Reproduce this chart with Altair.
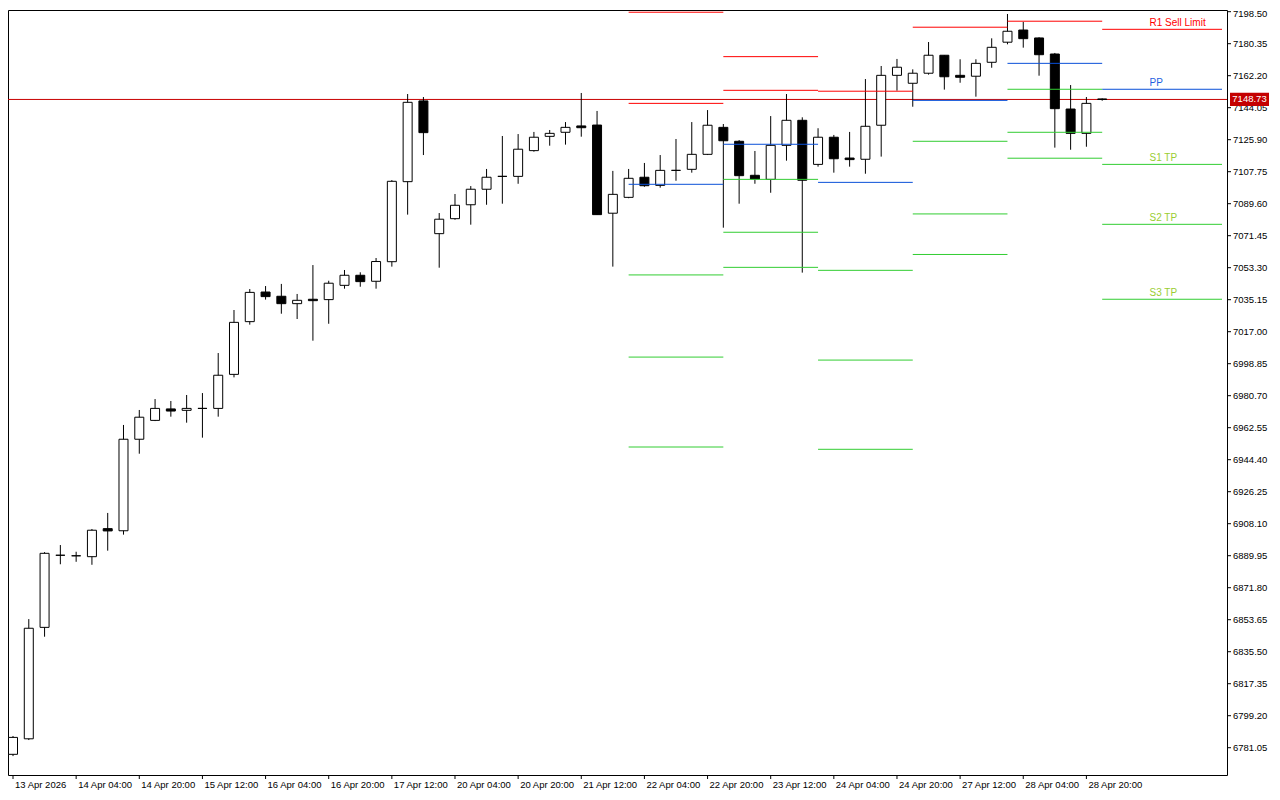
import altair as alt
import pandas as pd

# ---------------- data ----------------
opens = [6777.3, 6786.1, 6849.3, 6890.2, 6889.9, 6889.4, 6905.3, 6904.1, 6956.0, 6966.7,
         6973.2, 6972.4, 6973.5, 6973.5, 6992.8, 7022.7, 7039.5, 7037.1, 7032.9, 7035.4,
         7035.2, 7043.3, 7049.0, 7045.6, 7056.7, 7102.1, 7147.9, 7072.6, 7081.1, 7089.0,
         7097.8, 7105.1, 7105.1, 7119.7, 7127.8, 7130.1, 7133.7, 7134.2, 7084.2, 7093.2,
         7104.6, 7100.0, 7108.5, 7109.1, 7117.6, 7132.9, 7125.0, 7105.7, 7103.4, 7122.7,
         7136.9, 7111.9, 7127.3, 7115.5, 7114.8, 7134.1, 7162.4, 7157.9, 7163.6, 7173.8,
         7162.4, 7161.9, 7169.8, 7181.2, 7188.1, 7183.6, 7174.5, 7143.3, 7129.5, 7149.0]
closes = [6786.9, 6848.8, 6891.3, 6890.2, 6889.9, 6904.4, 6904.0, 6956.0, 6968.5, 6973.5,
          6972.0, 6973.5, 6973.5, 6992.3, 7022.3, 7039.3, 7036.9, 7032.9, 7034.8, 7034.6,
          7044.5, 7049.0, 7045.4, 7056.8, 7102.3, 7147.1, 7129.9, 7080.8, 7088.7, 7097.8,
          7104.6, 7105.1, 7120.5, 7127.3, 7129.5, 7132.9, 7132.7, 7083.4, 7094.9, 7104.0,
          7099.8, 7108.5, 7108.5, 7117.6, 7134.1, 7125.3, 7105.5, 7103.6, 7122.7, 7136.9,
          7102.9, 7127.3, 7115.1, 7114.6, 7133.5, 7162.4, 7167.0, 7163.6, 7173.8, 7161.6,
          7161.3, 7169.2, 7178.3, 7187.4, 7183.2, 7174.1, 7143.5, 7129.5, 7146.5, 7148.73]
highs = [6787.7, 6854.0, 6892.0, 6896.0, 6892.2, 6905.1, 6914.2, 6964.1, 6972.6, 6978.8,
         6977.7, 6981.1, 6982.2, 7004.9, 7029.3, 7041.2, 7042.9, 7044.1, 7038.4, 7054.8,
         7045.9, 7052.0, 7050.7, 7058.8, 7103.0, 7151.8, 7150.1, 7084.3, 7095.1, 7099.6,
         7109.3, 7128.0, 7129.1, 7130.3, 7131.4, 7135.9, 7152.4, 7142.2, 7108.2, 7109.3,
         7112.7, 7117.2, 7126.3, 7135.9, 7142.7, 7134.8, 7125.7, 7119.5, 7139.3, 7151.8,
         7138.6, 7132.4, 7128.6, 7130.3, 7160.3, 7167.7, 7171.7, 7165.8, 7181.3, 7173.9,
         7171.5, 7171.5, 7183.4, 7197.2, 7192.7, 7184.0, 7175.1, 7156.9, 7150.1, 7149.3]
lows = [6776.3, 6785.4, 6844.0, 6885.1, 6886.5, 6884.8, 6892.8, 6901.9, 6947.8, 6966.3,
        6968.8, 6965.4, 6956.9, 6968.8, 6991.1, 7021.0, 7035.2, 7027.2, 7024.2, 7011.9,
        7021.5, 7041.4, 7042.5, 7041.4, 7053.9, 7083.4, 7117.2, 7053.3, 7080.5, 7077.7,
        7089.0, 7089.6, 7100.9, 7119.1, 7122.5, 7123.1, 7127.6, 7083.2, 7053.9, 7092.7,
        7099.2, 7098.7, 7102.6, 7107.2, 7117.2, 7076.0, 7089.6, 7100.9, 7095.8, 7114.0,
        7050.5, 7110.6, 7107.2, 7110.6, 7106.6, 7116.3, 7153.7, 7144.6, 7162.8, 7154.3,
        7158.2, 7150.3, 7166.7, 7180.0, 7178.1, 7162.2, 7121.4, 7120.2, 7121.9, 7148.0]

x_tick_bars = [0, 4, 8, 12, 16, 20, 24, 28, 32, 36, 40, 44, 48, 52, 56, 60, 64, 68]
x_tick_labels = ["13 Apr 2026", "14 Apr 04:00", "14 Apr 20:00", "15 Apr 12:00",
                 "16 Apr 04:00", "16 Apr 20:00", "17 Apr 12:00", "20 Apr 04:00",
                 "20 Apr 20:00", "21 Apr 12:00", "22 Apr 04:00", "22 Apr 20:00",
                 "23 Apr 12:00", "24 Apr 04:00", "24 Apr 20:00", "27 Apr 12:00",
                 "28 Apr 04:00", "28 Apr 20:00"]

y_ticks = [6781.05, 6799.20, 6817.35, 6835.50, 6853.65, 6871.80, 6889.95, 6908.10,
           6926.25, 6944.40, 6962.55, 6980.70, 6998.85, 7017.00, 7035.15, 7053.30,
           7071.45, 7089.60, 7107.75, 7125.90, 7144.05, 7162.20, 7180.35, 7198.50]

# daily pivot levels (one entry per day segment, bar index start/end)
pivot_start = [39, 45, 51, 57, 63, 69]
pivot_end = [45, 51, 57, 63, 69, 76.59]
piv_r2 = [7198.2, 7173.0, 7203.3, None, None, None]
piv_r1 = [7146.5, 7153.9, 7153.4, 7189.7, 7193.1, 7188.5]
piv_pp = [7100.6, 7123.3, 7101.7, 7148.2, 7169.2, 7154.5]
piv_s1 = [7049.2, 7103.4, 7051.8, 7125.0, 7154.5, 7111.9]
piv_s2 = [7002.6, 7073.4, 7000.9, 7083.8, 7130.1, 7077.9]
piv_s3 = [6951.6, 7053.5, 6950.3, 7060.8, 7115.4, 7035.4]

level_labels = ["R1 Sell Limit", "PP", "S1 TP", "S2 TP", "S3 TP"]
current_price = 7148.73

# ---------------- tables ----------------
n = len(opens)
assert n == len(closes) == len(highs) == len(lows) == 70
candles = pd.DataFrame({"i": list(range(n)), "open": opens, "close": closes,
                        "high": highs, "low": lows})

rows = []
for kind, arr in [("R", piv_r2), ("R", piv_r1), ("PP", piv_pp),
                  ("S", piv_s1), ("S", piv_s2), ("S", piv_s3)]:
    for s, e, v in zip(pivot_start, pivot_end, arr):
        if v is not None:
            rows.append({"start": s, "end": e, "level": v, "kind": kind})
pivots = pd.DataFrame(rows)

last_levels = [piv_r1[-1], piv_pp[-1], piv_s1[-1], piv_s2[-1], piv_s3[-1]]
labels_df = pd.DataFrame({"level": last_levels, "label": level_labels,
                          "kind": ["R", "PP", "S", "S", "S"]})
price_df = pd.DataFrame({"price": [current_price], "txt": [f"{current_price:.2f}"]})
xticks_df = pd.DataFrame({"bar": x_tick_bars, "label": x_tick_labels})
yticks_df = pd.DataFrame({"v": y_ticks})
top_tick = max(y_ticks)

# ---------------- scales ----------------
W, H = 1219, 765
xscale = alt.Scale(domain=[0, 76.59], nice=False, zero=False)
yscale = alt.Scale(domain=[6765.57, 7199.46], nice=False, zero=False)

X = lambda f: alt.X(f, scale=xscale, axis=None)
Y = lambda f: alt.Y(f, scale=yscale, axis=None)
FONT = "Liberation Sans"

price_line = alt.Chart(price_df).mark_rule(color="#c80000", strokeWidth=1).encode(
    y=Y("price:Q")
)

wicks = alt.Chart(candles).mark_rule(color="black", strokeWidth=1).encode(
    x=X("i:Q"), y=Y("low:Q"), y2="high:Q",
)

bodies = alt.Chart(candles).mark_bar(size=9, stroke="black", strokeWidth=1).encode(
    x=X("i:Q"),
    y=Y("open:Q"),
    y2="close:Q",
    fill=alt.condition("datum.close >= datum.open", alt.value("white"), alt.value("black")),
)

kind_scale = alt.Scale(domain=["R", "PP", "S"], range=["#ff0000", "#0a50d8", "#32cd32"])
pivot_lines = alt.Chart(pivots).mark_rule(strokeWidth=1, clip=True).encode(
    x=X("start:Q"), x2="end:Q", y=Y("level:Q"),
    color=alt.Color("kind:N", scale=kind_scale, legend=None),
)

text_scale = alt.Scale(domain=["R", "PP", "S"], range=["#ff0000", "#1f5fe0", "#9acd32"])
level_text = alt.Chart(labels_df).mark_text(
    align="left", baseline="alphabetic", dy=-3, fontSize=10, font=FONT
).encode(
    x=alt.X(datum=72, scale=xscale, axis=None),
    y=Y("level:Q"),
    text="label:N",
    color=alt.Color("kind:N", scale=text_scale, legend=None),
)

# axes drawn through the same scales
x_ticks = alt.Chart(xticks_df).mark_rule(color="black", strokeWidth=1).encode(
    x=X("bar:Q"), y=alt.value(H), y2=alt.value(H + 4)
)
x_labels = alt.Chart(xticks_df).mark_text(
    align="left", baseline="top", dx=2, fontSize=9.5, font=FONT, color="black"
).encode(x=X("bar:Q"), y=alt.value(H + 5), text="label:N")

y_tick_marks = alt.Chart(yticks_df).mark_rule(color="black", strokeWidth=1).encode(
    y=Y("v:Q"), x=alt.value(W), x2=alt.value(W + 4)
)
y_labels = alt.Chart(yticks_df).transform_filter(
    f"datum.v < {top_tick}"
).mark_text(
    align="left", baseline="middle", fontSize=9.5, font=FONT, color="black"
).encode(y=Y("v:Q"), x=alt.value(W + 6), text=alt.Text("v:Q", format=".2f"))
y_label_top = alt.Chart(yticks_df).transform_filter(
    f"datum.v >= {top_tick}"
).mark_text(
    align="left", baseline="middle", dy=2, fontSize=9.5, font=FONT, color="black"
).encode(y=Y("v:Q"), x=alt.value(W + 6), text=alt.Text("v:Q", format=".2f"))

box_path = "M-1,-0.34L1,-0.34L1,0.34L-1,0.34Z"
price_box = alt.Chart(price_df).mark_point(
    shape=box_path, size=1521, filled=True, color="#c40000", opacity=1, strokeWidth=0
).encode(x=alt.value(W + 22.5), y=Y("price:Q"))

price_text = alt.Chart(price_df).mark_text(
    color="white", fontSize=9.5, font=FONT, align="center", baseline="middle"
).encode(x=alt.value(W + 22.5), y=Y("price:Q"), text="txt:N")

chart = alt.layer(
    price_line, wicks, bodies, pivot_lines, level_text,
    x_ticks, x_labels, y_tick_marks, y_labels, y_label_top, price_box, price_text
).properties(
    width=W, height=H,
    background="white",
    autosize=alt.AutoSizeParams(type="none"),
    padding={"left": 0, "top": 2, "right": 45, "bottom": 17},
).resolve_scale(color="independent").configure_view(
    stroke="black", strokeWidth=1
)

chart.save("out.html", embed_options={"renderer": "svg", "actions": False})
